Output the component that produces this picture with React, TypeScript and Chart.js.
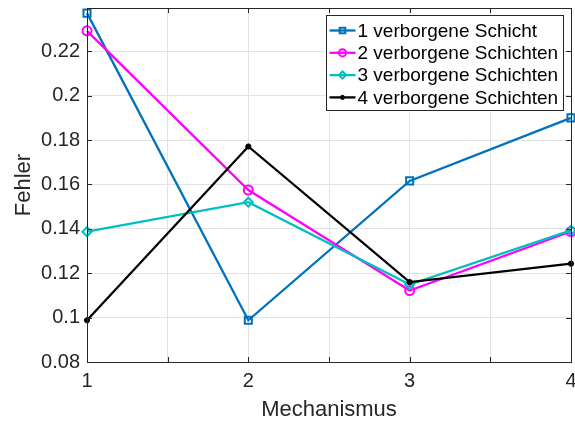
import React, { useEffect, useRef } from 'react';
import { Chart, registerables } from 'chart.js';

Chart.register(...registerables);

// ---- data ----
const mechanisms = [1, 2, 3, 4];
const seriesLabels = [
  '1 verborgene Schicht',
  '2 verborgene Schichten',
  '3 verborgene Schichten',
  '4 verborgene Schichten',
];
const schicht1 = [0.2372, 0.0988, 0.1616, 0.19];
const schicht2 = [0.2292, 0.1575, 0.1122, 0.1388];
const schicht3 = [0.1387, 0.152, 0.1149, 0.1393];
const schicht4 = [0.0988, 0.1771, 0.116, 0.1243];
const xTickLabels = ['1', '2', '3', '4'];
const yMin = 0.08;
const yMax = 0.2395;
const yStep = 0.02;
const xStep = 0.5;

const FONT = "'Liberation Sans', Arial, Helvetica, sans-serif";
const AXIS_COLOR = '#262626';
const GRID_COLOR = '#e3e3e3';

const colors = ['#0072BD', '#FF00FF', '#00BFBF', '#000000'];
const styles = ['rect', 'circle', 'rectRot', 'circle'];
const radii = [5, 4.5, 4.5, 2.6];
const allSeries = [schicht1, schicht2, schicht3, schicht4];

function drawMarker(ctx: any, style: string, r: number, x: number, y: number, fill: string, stroke: string, lw: number) {
  ctx.save();
  ctx.beginPath();
  if (style === 'rect') {
    const s = Math.SQRT1_2 * r;
    ctx.rect(x - s, y - s, 2 * s, 2 * s);
  } else if (style === 'rectRot') {
    ctx.moveTo(x, y - r);
    ctx.lineTo(x + r, y);
    ctx.lineTo(x, y + r);
    ctx.lineTo(x - r, y);
    ctx.closePath();
  } else {
    ctx.arc(x, y, r, 0, Math.PI * 2);
  }
  ctx.fillStyle = fill;
  ctx.fill();
  ctx.lineWidth = lw;
  ctx.strokeStyle = stroke;
  ctx.stroke();
  ctx.restore();
}

const boxPlugin = {
  id: 'matlabBox',
  afterDraw(chart: any) {
    const { ctx, chartArea } = chart;
    const { left, right, top, bottom } = chartArea;
    const xs = chart.scales.x;
    const ys = chart.scales.y;
    ctx.save();
    ctx.strokeStyle = AXIS_COLOR;
    ctx.lineWidth = 1;
    // inward tick marks
    const tl = 5;
    ctx.beginPath();
    xs.ticks.forEach((t: any) => {
      const px = Math.round(xs.getPixelForValue(t.value)) + 0.5;
      ctx.moveTo(px, bottom);
      ctx.lineTo(px, bottom - tl);
      ctx.moveTo(px, top);
      ctx.lineTo(px, top + tl);
    });
    ys.ticks.forEach((t: any) => {
      const py = Math.round(ys.getPixelForValue(t.value)) + 0.5;
      ctx.moveTo(left, py);
      ctx.lineTo(left + tl, py);
      ctx.moveTo(right, py);
      ctx.lineTo(right - tl, py);
    });
    ctx.stroke();
    ctx.strokeRect(Math.round(left) + 0.5, Math.round(top) + 0.5, Math.round(right - left), Math.round(bottom - top));

    // legend
    const ds = chart.data.datasets;
    const bx = 326.5, by = 15.5, bw = 237, bh = 95;
    ctx.fillStyle = '#ffffff';
    ctx.fillRect(bx, by, bw, bh);
    ctx.strokeStyle = AXIS_COLOR;
    ctx.lineWidth = 1;
    ctx.strokeRect(bx, by, bw, bh);
    ctx.font = `19px ${FONT}`;
    ctx.textBaseline = 'middle';
    ctx.textAlign = 'left';
    ds.forEach((d: any, i: number) => {
      const cy = by + 15 + i * 22.3;
      ctx.strokeStyle = d.borderColor;
      ctx.lineWidth = d.borderWidth;
      ctx.beginPath();
      ctx.moveTo(bx + 3, cy);
      ctx.lineTo(bx + 29, cy);
      ctx.stroke();
      drawMarker(ctx, d.pointStyle, d.pointRadius * 0.8, bx + 16, cy, d.pointBackgroundColor, d.borderColor, d.pointBorderWidth);
      ctx.fillStyle = '#000000';
      ctx.fillText(d.label, bx + 31, cy + 1);
    });
    ctx.restore();
  },
};

const CANVAS_W = 578;
const CANVAS_H = 424;

export default function App() {
  const ref = useRef<HTMLCanvasElement | null>(null);
  useEffect(() => {
    if (!ref.current) return;
    const datasets = allSeries.map((vals, i) => ({
      label: seriesLabels[i],
      data: mechanisms.map((m, j) => ({ x: m, y: vals[j] })),
      borderColor: colors[i],
      backgroundColor: colors[i],
      borderWidth: 2.3,
      pointStyle: styles[i],
      pointRadius: radii[i],
      pointBorderWidth: i === 3 ? 1 : 2,
      pointBackgroundColor: i === 3 ? '#000000' : 'rgba(0,0,0,0)',
      pointBorderColor: colors[i],
      tension: 0,
      order: 3 - i,
      clip: false as any,
    }));
    const chart = new Chart(ref.current, {
      type: 'line',
      data: { datasets },
      options: {
        animation: false,
        responsive: false,
        maintainAspectRatio: false,
        layout: { padding: { top: 8, right: 0, left: 0, bottom: 0 } },
        plugins: { legend: { display: false }, tooltip: { enabled: false } },
        scales: {
          x: {
            type: 'linear',
            min: mechanisms[0],
            max: mechanisms[mechanisms.length - 1],
            border: { display: false },
            grid: { color: GRID_COLOR, drawTicks: false, lineWidth: 1 },
            ticks: {
              stepSize: xStep,
              padding: 7,
              color: AXIS_COLOR,
              font: { family: FONT, size: 20 },
              maxRotation: 0,
              autoSkip: false,
              callback: (v: any) => {
                const idx = mechanisms.indexOf(Number(v));
                return idx >= 0 ? xTickLabels[idx] : '';
              },
            },
            title: {
              display: true,
              text: 'Mechanismus',
              color: AXIS_COLOR,
              font: { family: FONT, size: 22 },
              padding: { top: 2, bottom: 1 },
            },
            afterFit: (s: any) => {
              s.height = 62;
              s.paddingLeft = 0;
              s.paddingRight = 0;
            },
          },
          y: {
            type: 'linear',
            min: yMin,
            max: yMax,
            border: { display: false },
            grid: { color: GRID_COLOR, drawTicks: false, lineWidth: 1 },
            ticks: {
              stepSize: yStep,
              includeBounds: false,
              padding: 7,
              color: AXIS_COLOR,
              font: { family: FONT, size: 20 },
              callback: (v: any) => String(+Number(v).toFixed(2)),
            },
            title: {
              display: true,
              text: 'Fehler',
              color: AXIS_COLOR,
              font: { family: FONT, size: 22 },
              padding: { top: 11, bottom: 2 },
            },
            afterFit: (s: any) => {
              s.width = 87;
              s.paddingTop = 0;
              s.paddingBottom = 0;
            },
          },
        },
      } as any,
      plugins: [boxPlugin],
    });
    return () => chart.destroy();
  }, []);
  return (
    <div style={{ position: 'fixed', left: 0, top: 0, width: 575, height: 424, overflow: 'hidden', background: '#fff' }}>
      <canvas ref={ref} width={CANVAS_W} height={CANVAS_H} style={{ width: CANVAS_W, height: CANVAS_H, display: 'block' }} />
    </div>
  );
}
